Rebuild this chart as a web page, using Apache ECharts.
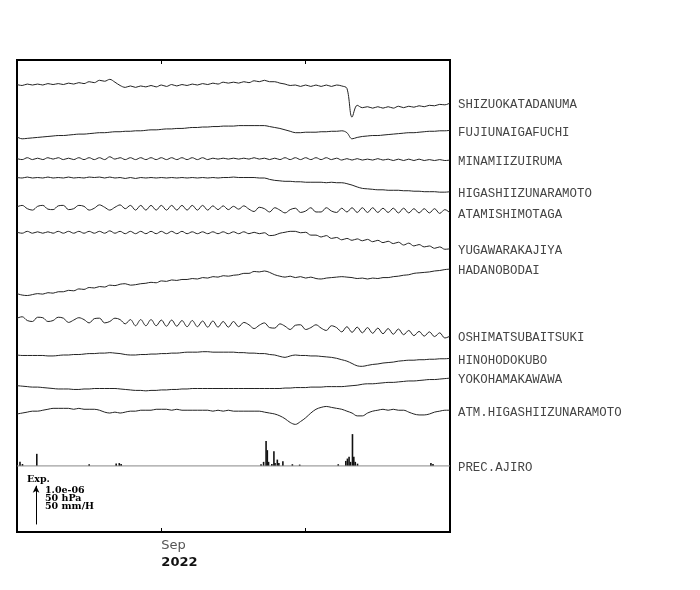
<!DOCTYPE html>
<html><head><meta charset="utf-8">
<script src="https://cdn.jsdelivr.net/npm/echarts@6/dist/echarts.min.js"></script>
<style>html,body{margin:0;padding:0;background:#fff}#c{width:700px;height:590px}</style>
</head><body><div id="c"></div>
<script>
// ---- time axis: days since 2022-08-18, samples every half day ----
const STEP_DAYS = 0.5;
const N_SAMPLES = 85;
const DAYS = Array.from({length: N_SAMPLES}, (_, i) => i * STEP_DAYS);
const X_TICKS = [0, 14, 28, 42];
const X_TICK_LABELS = ['', 'Sep\n2022', '', ''];

// ---- strain series (relative to first sample, up = positive; 82 units = 1.0e-06) ----
const SHIZUOKATADANUMA = [0,-2,1,-1,1,-1,2,0,2,0, 3,1,4,2,6,4,9,7,11,5, -2,-6,-3,-6,-3,-5,-2,-5,-1,-4, 0,-3,0,-2,1,-1,2,0,3,1, 5,3,5,3,6,4,8,6,9,6, 6,3,1,-2,-1,-4,-1,-4,-1,-4, -1,-4,-1,-3,-8,-69,-44,-49,-47,-50, -47,-50,-47,-50,-46,-49,-46,-48,-45,-47, -44,-45,-42,-43,-39];
const FUJIUNAIGAFUCHI = [0,-4,-3,-2,-1,0,1,2,3,3, 4,5,6,6,7,8,9,9,10,11, 11,12,12,13,13,14,15,15,16,17, 17,18,18,19,20,20,21,21,22,22, 23,23,23,24,24,24,24,24,24,22, 20,18,15,12,9,9,10,10,10,11, 11,12,12,13,9,-4,-1,1,2,3, 3,4,5,6,7,8,9,9,10,11, 12,12,13,13,14];
const MINAMIIZUIRUMA = [0,-2,2,-2,1,-2,2,-1,2,-2, 1,-2,2,-2,2,-2,2,-2,4,-1, 2,-2,2,-2,2,-2,2,-2,2,-2, 2,-2,2,-2,2,-2,2,-2,1,-1, 1,-1,1,-1,1,-1,2,-1,1,-2, 1,-2,2,-2,2,-2,2,-2,2,-2, 2,-2,1,-3,0,-3,0,-3,-1,-3, 0,-3,-1,-4,-1,-4,-1,-4,-1,-4, -2,-4,-2,-4,-3];
const HIGASHIIZUNARAMOTO = [0,-1,1,-1,0,-1,1,-1,0,-1, 1,-1,0,-1,1,0,1,-1,1,-1, 0,-2,0,-2,0,-1,0,-1,0,-1, 0,-1,0,-1,0,-1,0,-1,0,-1, 0,0,1,0,0,0,0,-1,-1,-4, -6,-7,-8,-8,-9,-9,-10,-10,-10,-10, -11,-10,-11,-11,-13,-16,-20,-23,-24,-25, -26,-26,-27,-27,-27,-28,-28,-29,-29,-30, -30,-30,-31,-31,-30];
const ATAMISHIMOTAGA = [0,3,-4,-7,1,3,-5,-6,2,3, -6,-4,3,1,-7,-3,4,-1,-7,-1, 4,-4,3,-7,3,-7,3,-7,3,-7, 3,-7,3,-7,3,-7,3,-7,2,-6, 2,-6,1,-5,2,-5,-10,-1,-4,-11, -2,-7,-13,-6,-3,-12,-9,-2,-11,-11, -2,-9,-12,-3,-11,-2,-12,-2,-12,-2, -12,-3,-12,-3,-13,-3,-13,-4,-13,-4, -13,-4,-14,-6,-13];
const YUGAWARAKAJIYA = [0,-2,2,-2,1,-2,1,-2,2,-2, 2,-2,2,-2,2,-2,2,-2,3,-2, 2,-3,2,-3,2,-3,2,-3,2,-3, 2,-3,2,-3,1,-3,1,-3,1,-3, 1,-3,1,-3,1,-3,0,-3,-1,-7, -6,-2,0,2,2,-1,0,-6,-6,-10, -7,-13,-11,-16,-13,-17,-14,-18,-15,-20, -17,-22,-19,-24,-21,-27,-23,-29,-26,-31, -29,-34,-31,-36,-35];
const HADANOBODAI = [0,-3,-4,-2,0,-1,2,1,4,4, 7,6,10,9,13,12,15,14,18,17, 20,21,18,19,21,22,24,23,27,26, 29,28,30,30,32,31,34,33,36,35, 38,37,39,40,43,43,47,46,48,45, 40,37,35,37,34,36,33,35,32,31, 33,34,35,36,35,34,32,33,31,33, 32,34,34,36,37,39,40,43,44,45, 46,48,49,51,52];
const OSHIMATSUBAITSUKI = [0,3,-5,-7,2,1,-7,-5,2,0, -9,-4,1,-3,-10,-1,0,-10,-7,0, -3,-12,-3,-16,-3,-16,-3,-16,-4,-17, -4,-17,-5,-18,-5,-18,-6,-19,-6,-19, -7,-19,-7,-18,-9,-14,-22,-15,-10,-20, -21,-12,-17,-24,-15,-14,-24,-20,-14,-21, -26,-16,-20,-29,-18,-30,-19,-31,-20,-32, -21,-33,-22,-34,-23,-35,-26,-37,-28,-38, -29,-39,-31,-42,-38];
const HINOHODOKUBO = [0,-1,-1,-1,-1,-1,-2,-2,-1,0, 0,1,1,2,3,3,4,4,5,4, 3,1,0,0,1,1,2,2,3,3, 4,4,5,6,6,6,7,7,6,6, 6,6,6,5,5,4,4,3,3,1, 0,-3,-5,-2,0,-1,-1,-2,-2,-3, -4,-5,-7,-10,-13,-18,-23,-24,-22,-20, -19,-17,-16,-15,-13,-12,-11,-11,-10,-10, -9,-9,-8,-8,-7];
const YOKOHAMAKAWAWA = [0,-1,-2,-3,-3,-4,-5,-6,-7,-7, -7,-8,-8,-7,-7,-6,-6,-6,-6,-6, -7,-8,-9,-10,-10,-11,-10,-10,-9,-9, -8,-8,-7,-7,-6,-6,-6,-6,-6,-6, -6,-6,-6,-6,-6,-6,-6,-6,-6,-6, -6,-6,-5,-5,-4,-4,-4,-3,-3,-3, -2,-2,-2,-2,-1,0,1,3,4,4, 5,6,7,7,8,9,10,10,11,12, 13,13,14,15,16];
// ---- atmospheric pressure (relative) ----
const ATM_HIGASHIIZUNARAMOTO = [0,1,2,3,3,4,5,6,6,6, 6,5,6,5,5,5,4,2,1,2, 1,2,3,3,4,4,4,5,5,5, 4,5,4,4,4,4,4,4,3,4, 3,4,3,3,3,3,3,3,2,1, 0,-2,-5,-9,-11,-8,-4,1,5,7, 8,7,6,5,3,1,-2,-2,1,3, 4,5,4,5,4,4,2,0,-1,-1, 0,2,3,4,4];
// ---- precipitation (relative rain rate) ----
const PREC_DAYS = [0.29,0.53,1.92,7.0,9.62,9.92,10.1, 23.67,23.92,24.16,24.28,24.40,24.72,24.92,25.03,25.25,25.40,25.79,26.71,27.42, 31.16,31.89,32.05,32.21,32.35,32.54,32.67,32.81,33.03, 40.15,40.35];
const PREC_AJIRO = [4.3,2.0,12.8,1.8,2.5,3.0,2.0, 1.8,4.3,26.3,16.7,4.3,2.1,15.6,3.2,6.7,3.2,5.0,1.8,1.4, 1.8,5.3,7.8,9.6,4.3,33.7,9.6,4.3,2.4, 3.0,2.0];

// ---- scale factors into axis units ----
const SCALE_STRAIN = 1;
const SCALE_HPA = 2;
const SCALE_PREC = 2;
const SCALE_BAR = 82;        // length of Exp. arrow in axis units (1.0e-06 / 50 hPa / 50 mm/H)

// ---- layout: vertical base of each trace (axis units, 0..1000) ----
const BASE = {
  'SHIZUOKATADANUMA': 948, 'FUJIUNAIGAFUCHI': 837, 'MINAMIIZUIRUMA': 791,
  'HIGASHIIZUNARAMOTO': 751, 'ATAMISHIMOTAGA': 689, 'YUGAWARAKAJIYA': 635,
  'HADANOBODAI': 505, 'OSHIMATSUBAITSUKI': 453, 'HINOHODOKUBO': 375,
  'YOKOHAMAKAWAWA': 310, 'ATM.HIGASHIIZUNARAMOTO': 250, 'PREC.AJIRO': 140
};

const TRACES = [
  ['SHIZUOKATADANUMA', SHIZUOKATADANUMA, SCALE_STRAIN],
  ['FUJIUNAIGAFUCHI', FUJIUNAIGAFUCHI, SCALE_STRAIN],
  ['MINAMIIZUIRUMA', MINAMIIZUIRUMA, SCALE_STRAIN],
  ['HIGASHIIZUNARAMOTO', HIGASHIIZUNARAMOTO, SCALE_STRAIN],
  ['ATAMISHIMOTAGA', ATAMISHIMOTAGA, SCALE_STRAIN],
  ['YUGAWARAKAJIYA', YUGAWARAKAJIYA, SCALE_STRAIN],
  ['HADANOBODAI', HADANOBODAI, SCALE_STRAIN],
  ['OSHIMATSUBAITSUKI', OSHIMATSUBAITSUKI, SCALE_STRAIN],
  ['HINOHODOKUBO', HINOHODOKUBO, SCALE_STRAIN],
  ['YOKOHAMAKAWAWA', YOKOHAMAKAWAWA, SCALE_STRAIN],
  ['ATM.HIGASHIIZUNARAMOTO', ATM_HIGASHIIZUNARAMOTO, SCALE_HPA]
];

const LABEL_FONT = 'Liberation Mono, DejaVu Sans Mono, monospace';
const endLabel = {
  show: true, formatter: '{a}', distance: 8, offset: [0, 2],
  fontFamily: LABEL_FONT, fontSize: 12.4, color: '#444'
};

const series = TRACES.map(([name, vals, k]) => ({
  name, type: 'line', symbol: 'none', animation: false, silent: true, smooth: 0.35,
  data: DAYS.map((d, i) => [d, BASE[name] + vals[i] * k]),
  lineStyle: {color: '#222', width: 1},
  endLabel
}));

// precipitation baseline with label
series.push({
  name: 'PREC.AJIRO', type: 'line', symbol: 'none', animation: false, silent: true,
  data: [[X_TICKS[0], BASE['PREC.AJIRO']], [X_TICKS[X_TICKS.length - 1], BASE['PREC.AJIRO']]],
  lineStyle: {color: '#888', width: 1},
  endLabel
});
// precipitation bars
series.push({
  name: 'precBars', type: 'custom', animation: false, silent: true,
  data: PREC_DAYS.map((d, i) => [d, PREC_AJIRO[i]]),
  encode: {x: 0, y: 1},
  renderItem: (params, api) => {
    const d = api.value(0), v = api.value(1);
    const p0 = api.coord([d, BASE['PREC.AJIRO']]);
    const p1 = api.coord([d, BASE['PREC.AJIRO'] + v * SCALE_PREC]);
    return {type: 'rect', shape: {x: p0[0] - 0.8, y: p1[1], width: 1.6, height: p0[1] - p1[1]},
            style: {fill: '#111'}};
  }
});
// scale arrow (Exp.)
const ARROW_DAY = 1.85, ARROW_BASE = 16;
series.push({
  name: 'scale', type: 'line', symbol: 'none', animation: false, silent: true,
  data: [[ARROW_DAY, ARROW_BASE]], lineStyle: {opacity: 0},
  markLine: {
    silent: true, animation: false, symbol: ['none', 'arrow'], symbolSize: [5, 7],
    lineStyle: {color: '#000', width: 1, type: 'solid'}, label: {show: false},
    data: [[{coord: [ARROW_DAY, ARROW_BASE]}, {coord: [ARROW_DAY, ARROW_BASE + SCALE_BAR]}]]
  }
});

const chart = echarts.init(document.getElementById('c'), null, {renderer: 'canvas'});
const xCommon = {
  type: 'value', min: X_TICKS[0], max: X_TICKS[X_TICKS.length - 1], interval: X_TICKS[1] - X_TICKS[0],
  axisLine: {show: false}, splitLine: {show: false},
  axisTick: {show: true, inside: true, length: 4, lineStyle: {color: '#000', width: 1}}
};
const EXP_FONT = 'DejaVu Serif, serif';
chart.setOption({
  animation: false,
  grid: {left: 17, right: 250, top: 60, bottom: 58, show: true, borderColor: '#000', borderWidth: 2, backgroundColor: 'transparent'},
  xAxis: [
    Object.assign({}, xCommon, {
      position: 'bottom',
      axisLabel: {
        show: true, margin: 5, align: 'left',
        formatter: v => { const i = X_TICKS.indexOf(v); const t = i >= 0 ? X_TICK_LABELS[i] : '';
          if (!t) return ''; const [a, b] = t.split('\n'); return '{a|' + a + '}\n{b|' + b + '}'; },
        rich: {
          a: {fontFamily: 'DejaVu Sans', fontSize: 13, color: '#555', lineHeight: 17},
          b: {fontFamily: 'DejaVu Sans', fontSize: 13, fontWeight: 'bold', color: '#111', lineHeight: 17}
        }
      }
    }),
    Object.assign({}, xCommon, {position: 'top', axisLabel: {show: false}})
  ],
  yAxis: {type: 'value', min: 0, max: 1000, show: false, splitLine: {show: false}},
  series,
  graphic: [
    {type: 'text', left: 27, top: 474.5, silent: true, style: {text: 'Exp.', font: 'bold 9.5px ' + EXP_FONT, fill: '#000'}},
    {type: 'text', left: 45, top: 485.5, silent: true, style: {text: '1.0e-06', font: 'bold 9.5px ' + EXP_FONT, fill: '#000'}},
    {type: 'text', left: 45, top: 493.5, silent: true, style: {text: '50 hPa', font: 'bold 9.5px ' + EXP_FONT, fill: '#000'}},
    {type: 'text', left: 45, top: 501.5, silent: true, style: {text: '50 mm/H', font: 'bold 9.5px ' + EXP_FONT, fill: '#000'}}
  ]
});
</script></body></html>
